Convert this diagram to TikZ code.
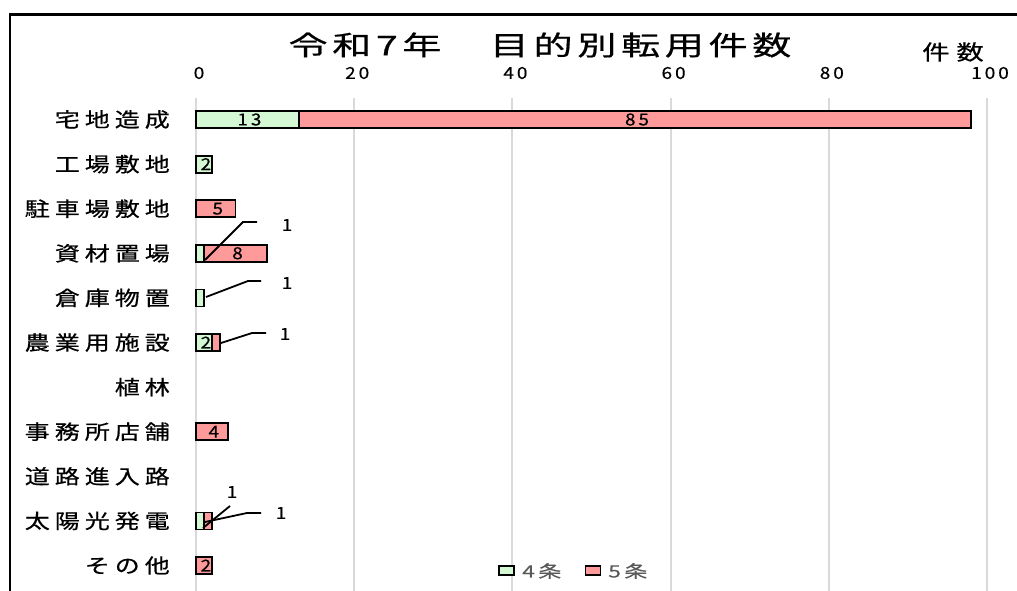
\documentclass[tikz,border=0pt]{standalone}
\usepackage{fontspec}
\newfontfamily\jpcat{Noto Sans CJK JP}[FakeStretch=1.25,LetterSpace=25,FakeBold=0.6]
\newfontfamily\jpunit{Noto Sans CJK JP}[FakeStretch=1.3,LetterSpace=33,FakeBold=0.6]
\newfontfamily\jpnum{Noto Sans CJK JP}[FakeStretch=1.15,LetterSpace=18,FakeBold=0.5]
\newfontfamily\jpleg{Noto Sans CJK JP}[FakeStretch=1.35,LetterSpace=20,FakeBold=0.3]
\newfontfamily\jptitle{Noto Sans CJK JP}[FakeStretch=1.45,LetterSpace=17,FakeBold=0.6]
\definecolor{cfour}{HTML}{D4F7D4}
\definecolor{cfive}{HTML}{FF9A9A}
\definecolor{gridc}{HTML}{D9D9D9}
\definecolor{legtxt}{HTML}{595959}
\begin{document}
\begin{tikzpicture}[x=1pt,y=-1pt,
  cat/.style={anchor=east, inner sep=0, font=\jpcat\fontsize{20}{22}\selectfont},
  tick/.style={inner sep=0, font=\jpnum\fontsize{16.5}{18}\selectfont},
  val/.style={inner sep=0, font=\jpnum\fontsize{16.5}{18}\selectfont},
  seg/.style={draw=black, line width=1.8pt, minimum height=17pt, inner sep=0, outer sep=0, anchor=west},
  segfour/.style={seg, fill=cfour},
  segfive/.style={seg, fill=cfive},
  gridln/.style={draw=gridc, line width=2pt},
  leader/.style={draw=black, line width=1.8pt},
  legbox/.style={draw=black, line width=1.8pt, minimum width=15pt, minimum height=9pt, inner sep=0},
  legtext/.style={anchor=west, inner sep=0, text=legtxt, font=\jpleg\fontsize{17}{19}\selectfont}
]
\useasboundingbox (0,0) rectangle (1017,591);
% frame (cropped chart area)
\draw[line width=2.5pt] (10,591) -- (10,14.5) -- (1017,14.5);
% title
\node[inner sep=0, font=\jptitle\fontsize{27}{30}\selectfont] (title) at (540,45) {令和7年　目的別転用件数};
\node[inner sep=0, font=\jpunit\fontsize{21}{23}\selectfont, anchor=east] (unit) at (984,52) {件数};
% grid and ticks
\foreach \v in {0,20,40,60,80,100}{
  \draw[gridln] ({196+\v*7.91},98) -- ({196+\v*7.91},591);
  \node[tick] (t\v) at ({199+\v*7.91},73) {\v};
}
% category labels
\node[cat] (c1) at (170,119.5) {宅地造成};
\node[cat] (c2) at (170,164.1) {工場敷地};
\node[cat] (c3) at (170,208.7) {駐車場敷地};
\node[cat] (c4) at (170,253.3) {資材置場};
\node[cat] (c5) at (170,297.9) {倉庫物置};
\node[cat] (c6) at (170,342.5) {農業用施設};
\node[cat] (c7) at (170,387.1) {植林};
\node[cat] (c8) at (170,431.7) {事務所店舗};
\node[cat] (c9) at (170,476.3) {道路進入路};
\node[cat] (c10) at (170,520.9) {太陽光発電};
\node[cat] (c11) at (170,565.5) {その他};
% bars
\node[segfour, minimum width=13*7.91pt] (s1a) at (196,119.5) {};
\node[segfive, minimum width=85*7.91pt] (s1b) at (s1a.east) {};
\node[val] (l1a) at ([xshift=2pt]s1a.center) {13};
\node[val] (l1b) at ([xshift=2pt]s1b.center) {85};
\node[segfour, minimum width=2*7.91pt] (s2a) at (196,164.1) {};
\node[val] (l2a) at ([xshift=2pt]s2a.center) {2};
\node[segfive, minimum width=5*7.91pt] (s3b) at (196,208.7) {};
\node[val] (l3b) at ([xshift=2pt]s3b.center) {5};
\node[segfour, minimum width=1*7.91pt] (s4a) at (196,253.3) {};
\node[segfive, minimum width=8*7.91pt] (s4b) at (s4a.east) {};
\node[val] (l4b) at ([xshift=2pt]s4b.center) {8};
\node[segfour, minimum width=1*7.91pt] (s5a) at (196,297.9) {};
\node[segfour, minimum width=2*7.91pt] (s6a) at (196,342.5) {};
\node[segfive, minimum width=1*7.91pt] (s6b) at (s6a.east) {};
\node[val] (l6a) at ([xshift=2pt]s6a.center) {2};
\node[segfive, minimum width=4*7.91pt] (s8b) at (196,431.7) {};
\node[val] (l8b) at ([xshift=2pt]s8b.center) {4};
\node[segfour, minimum width=1*7.91pt] (s10a) at (196,520.9) {};
\node[segfive, minimum width=1*7.91pt] (s10b) at (s10a.east) {};
\node[segfive, minimum width=2*7.91pt] (s11b) at (196,565.5) {};
\node[val] (l11b) at ([xshift=2pt]s11b.center) {2};
% outside labels with leader lines
\node[val] (l4a) at (287,225) {1};
\coordinate (p4) at (205,260);
\coordinate (k4) at (243,222);
\coordinate (e4) at (257,222);
\draw[leader] (p4) -- (k4) -- (e4);
\node[val] (l5a) at (287,283) {1};
\coordinate (p5) at (206,297);
\coordinate (k5) at (248,281);
\coordinate (e5) at (261,281);
\draw[leader] (p5) -- (k5) -- (e5);
\node[val] (l6b) at (285,334) {1};
\coordinate (p6) at (221,343);
\coordinate (k6) at (252,333);
\coordinate (e6) at (266,333);
\draw[leader] (p6) -- (k6) -- (e6);
\node[val] (l10a) at (232,492) {1};
\coordinate (p10a) at (203,528);
\coordinate (k10a) at (230,506);
\draw[leader] (p10a) -- (k10a);
\node[val] (l10b) at (281,513) {1};
\coordinate (p10b) at (205,522);
\coordinate (k10b) at (247,513);
\coordinate (e10b) at (261,513);
\draw[leader] (p10b) -- (k10b) -- (e10b);
% legend
\node[legbox, fill=cfour] (g4) at (506.5,570.5) {};
\node[legtext] (g4t) at (522,571) {4条};
\node[legbox, fill=cfive] (g5) at (593,570.5) {};
\node[legtext] (g5t) at (608,571) {5条};
\end{tikzpicture}
\end{document}
